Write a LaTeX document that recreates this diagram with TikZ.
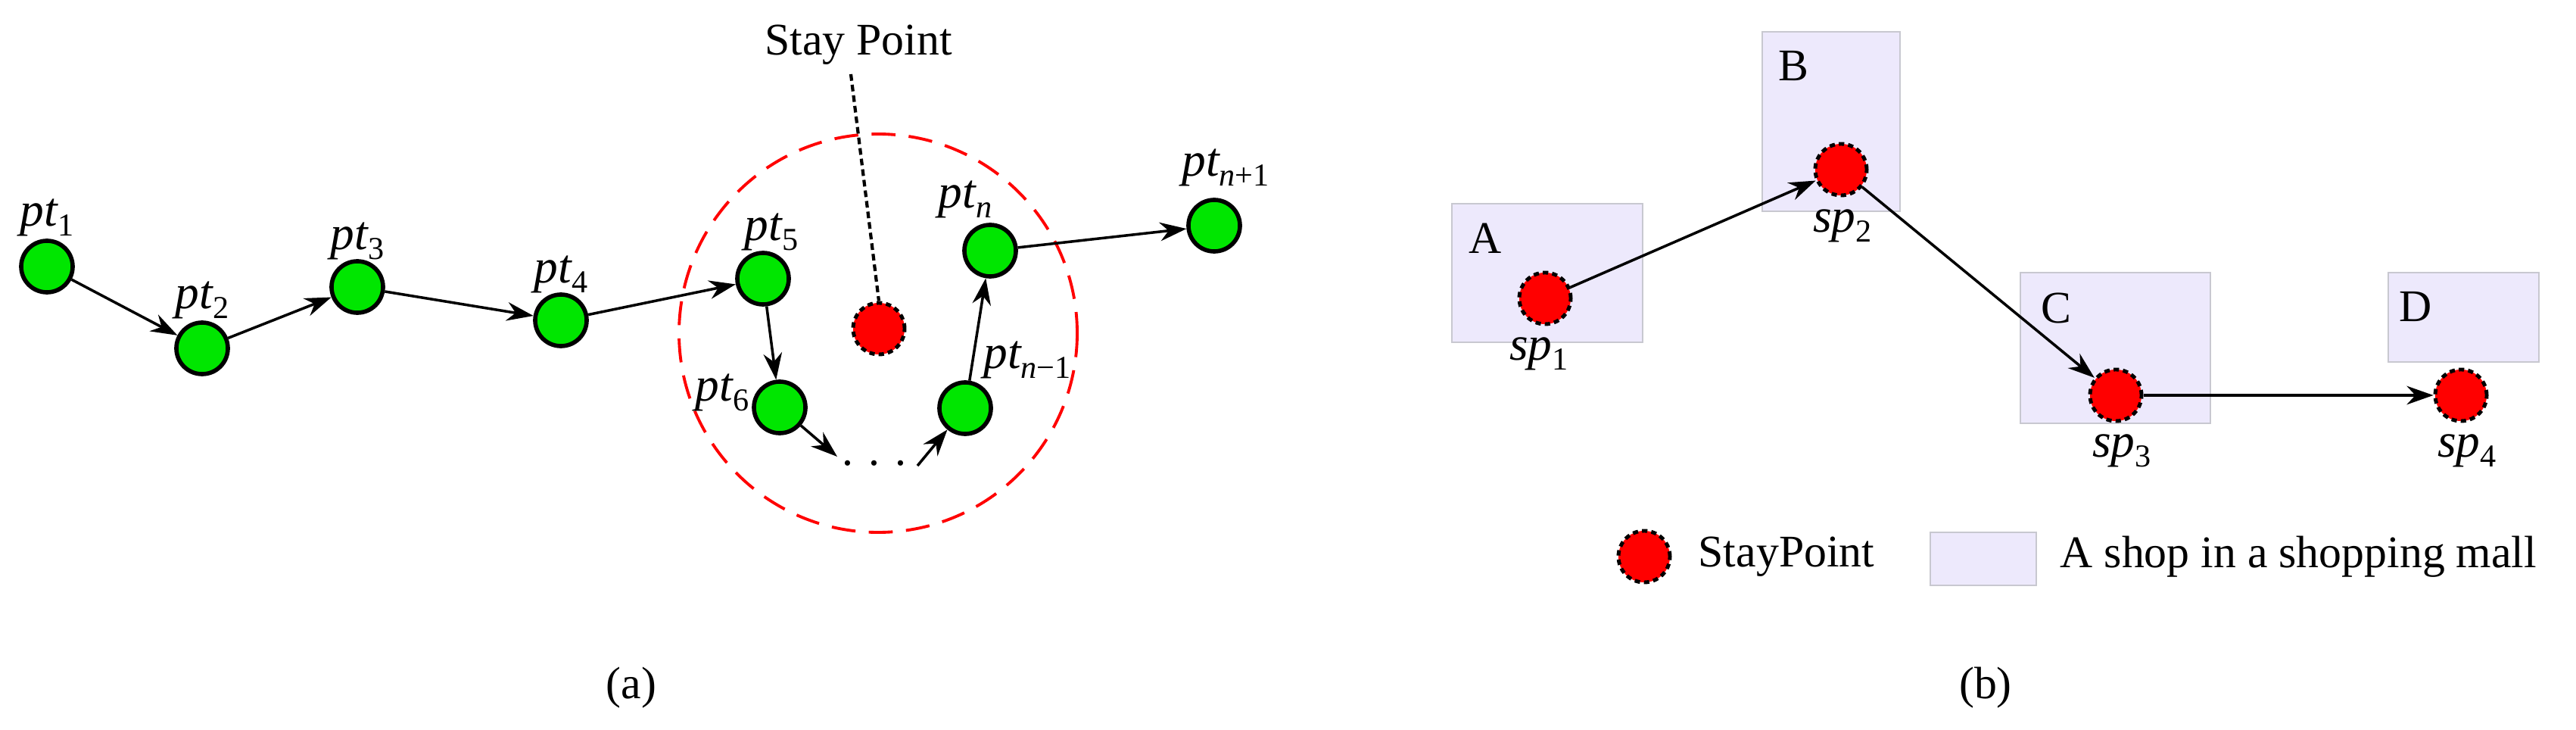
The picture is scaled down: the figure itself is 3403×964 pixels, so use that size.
\documentclass[tikz,border=0pt]{standalone}
\usepackage{fontspec}
\setmainfont{Liberation Serif}
\usetikzlibrary{arrows.meta}
\newcommand\mysub[1]{\raisebox{-0.45ex}{\fontsize{12}{12}\selectfont #1}}
\newcommand\lab[2]{{\itshape #1}\mysub{#2}}
\definecolor{ptgreen}{RGB}{0,230,0}
\definecolor{shopfill}{RGB}{237,233,252}
\definecolor{shopdraw}{RGB}{200,200,208}
\begin{document}
\begin{tikzpicture}[x=0.01cm,y=-0.01cm,
  gp/.style={circle,draw=black,line width=1.6pt,fill=ptgreen,minimum size=0.68cm,inner sep=0pt},
  rp/.style={circle,draw=black,dashed,dash pattern=on 2pt off 1.5pt,line width=1.4pt,fill=red,minimum size=0.68cm,inner sep=0pt},
  shop/.style={draw=shopdraw,fill=shopfill,line width=0.8pt},
  arr/.style={-{Stealth[length=10pt,width=7pt]},line width=1pt},
  lbl/.style={font=\fontsize{18}{18}\selectfont,inner sep=0pt},
  txt/.style={font=\fontsize{17}{17}\selectfont,inner sep=0pt}]
\useasboundingbox (0,0) rectangle (3403,964);
% (a)
\draw[red,dashed,dash pattern=on 9pt off 5pt,line width=1.1pt] (1160,440) circle[radius=263];
\node[gp] (p1) at (62,352) {};
\node[gp] (p2) at (267,460) {};
\node[gp] (p3) at (472,379) {};
\node[gp] (p4) at (741,423) {};
\node[gp] (p5) at (1008,368) {};
\node[gp] (p6) at (1030,538) {};
\node[gp] (pm) at (1275,539) {};
\node[gp] (pn) at (1308,331) {};
\node[gp] (pp) at (1604,298) {};
\node[rp] (sp) at (1161,434) {};
\node[txt] (dots) at (1155,612) {. . .};
\coordinate (d1) at (1106,603);
\coordinate (d2) at (1212,615);
\draw[arr] (p1) -- (p2);
\draw[arr] (p2) -- (p3);
\draw[arr] (p3) -- (p4);
\draw[arr] (p4) -- (p5);
\draw[arr] (p5) -- (p6);
\draw[arr] (p6) -- (d1);
\draw[arr] (d2) -- (pm);
\draw[arr] (pm) -- (pn);
\draw[arr] (pn) -- (pp);
\node[txt] (st) at (1134,59) {Stay Point};
\draw[dashed,dash pattern=on 2.5pt off 1.5pt,line width=1.2pt] (st.south) ++(-10,12) -- (sp.north);
\node[lbl] at (62,287) {\lab{pt}{1}};
\node[lbl] at (267,396) {\lab{pt}{2}};
\node[lbl] at (472,318) {\lab{pt}{3}};
\node[lbl] at (741,362) {\lab{pt}{4}};
\node[lbl] at (1019,306) {\lab{pt}{5}};
\node[lbl] at (954,518) {\lab{pt}{6}};
\node[lbl] at (1275,263) {\lab{pt}{\itshape n}};
\node[lbl] at (1357,475) {\lab{pt}{{\itshape n}−1}};
\node[lbl] at (1619,221) {\lab{pt}{{\itshape n}+1}};
\node[txt] at (834,908) {(a)};
% (b)
\draw[shop] (1918,269) rectangle (2170,452);
\draw[shop] (2328,42) rectangle (2510,279);
\draw[shop] (2669,360) rectangle (2920,559);
\draw[shop] (3155,360) rectangle (3354,478);
\node[txt] at (1962,315) {A};
\node[txt] at (2369,87) {B};
\node[txt] at (2716,407) {C};
\node[txt] at (3191,405) {D};
\node[rp] (s1) at (2041,394) {};
\node[rp] (s2) at (2432,224) {};
\node[rp] (s3) at (2795,522) {};
\node[rp] (s4) at (3251,522) {};
\draw[arr] (s1) -- (s2);
\draw[arr] (s2) -- (s3);
\draw[arr] (s3) -- (s4);
\node[lbl] at (2033,467) {\lab{sp}{1}};
\node[lbl] at (2434,298) {\lab{sp}{2}};
\node[lbl] at (2803,595) {\lab{sp}{3}};
\node[lbl] at (3259,595) {\lab{sp}{4}};
\node[rp] (lg) at (2172,735) {};
\node[txt,anchor=west] at (2243,735) {StayPoint};
\draw[shop] (2550,703) rectangle (2690,773);
\node[txt,anchor=west] at (2721,735) {A shop in a shopping mall};
\node[txt] at (2623,908) {(b)};
\end{tikzpicture}
\end{document}
